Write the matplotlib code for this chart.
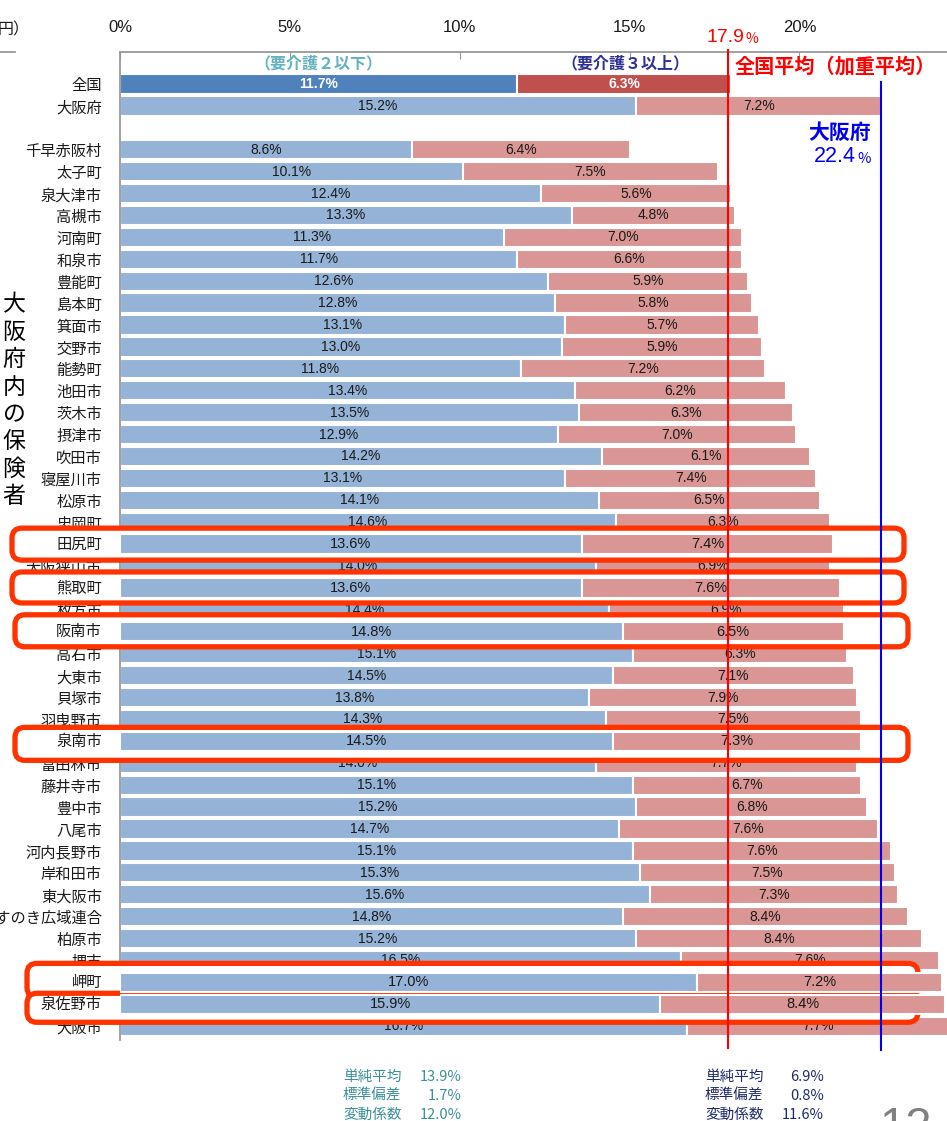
import matplotlib.pyplot as plt
from matplotlib import font_manager
from matplotlib.patches import FancyBboxPatch
from matplotlib.lines import Line2D
from matplotlib.transforms import IdentityTransform

# data
names = ['全国', '大阪府',
         '千早赤阪村', '太子町', '泉大津市', '高槻市', '河南町', '和泉市', '豊能町',
         '島本町', '箕面市', '交野市', '能勢町', '池田市', '茨木市', '摂津市',
         '吹田市', '寝屋川市', '松原市', '忠岡町', '田尻町', '大阪狭山市', '熊取町',
         '枚方市', '阪南市', '高石市', '大東市', '貝塚市', '羽曳野市', '泉南市',
         '富田林市', '藤井寺市', '豊中市', '八尾市', '河内長野市', '岸和田市',
         '東大阪市', 'くすのき広域連合', '柏原市', '堺市', '岬町', '泉佐野市', '大阪市']
care_low = [11.7, 15.2,
            8.6, 10.1, 12.4, 13.3, 11.3, 11.7, 12.6,
            12.8, 13.1, 13.0, 11.8, 13.4, 13.5, 12.9,
            14.2, 13.1, 14.1, 14.6, 13.6, 14.0, 13.6,
            14.4, 14.8, 15.1, 14.5, 13.8, 14.3, 14.5,
            14.0, 15.1, 15.2, 14.7, 15.1, 15.3,
            15.6, 14.8, 15.2, 16.5, 17.0, 15.9, 16.7]
care_high = [6.3, 7.2,
             6.4, 7.5, 5.6, 4.8, 7.0, 6.6, 5.9,
             5.8, 5.7, 5.9, 7.2, 6.2, 6.3, 7.0,
             6.1, 7.4, 6.5, 6.3, 7.4, 6.9, 7.6,
             6.9, 6.5, 6.3, 7.1, 7.9, 7.5, 7.3,
             7.7, 6.7, 6.8, 7.6, 7.6, 7.5,
             7.3, 8.4, 8.4, 7.6, 7.2, 8.4, 7.7]
rows = [0, 1] + list(range(3, 44))
highlight = ['田尻町', '熊取町', '阪南市', '泉南市', '岬町', '泉佐野市']
national_avg = 17.9
osaka_avg = 22.4
xticks = [0, 5, 10, 15, 20]
stat_names = ['単純平均', '標準偏差', '変動係数']
stats_low = ['13.9%', '1.7%', '12.0%']
stats_high = ['6.9%', '0.8%', '11.6%']

have = {f.name for f in font_manager.fontManager.ttflist}
num = 'Liberation Sans' if 'Liberation Sans' in have else 'DejaVu Sans'
jp = 'Noto Sans CJK JP'
plt.rcParams['font.family'] = [jp, 'DejaVu Sans']

W, H = 947, 1121
fig = plt.figure(figsize=(W / 100, H / 100), dpi=100)
ax = fig.add_axes([120 / W, 1 - 1040 / H, 1 - 120 / W, (1040 - 52) / H])


def fy(py):
    return 1 - py / H


def draw_row(y, lo, hi, c_lo, c_hi, z, tc='#1a1a1a', bold=False, size=10):
    ax.barh(y, lo, height=0.88, color=c_lo, edgecolor='white', linewidth=1.5, zorder=z)
    ax.barh(y, hi, left=lo, height=0.88, color=c_hi, edgecolor='white', linewidth=1.5, zorder=z)
    w = 'bold' if bold else 'normal'
    ax.text(lo / 2, y, f'{lo:.1f}%', ha='center', va='center', color=tc, fontsize=size,
            family=num, weight=w, zorder=z + 0.5)
    ax.text(lo + hi / 2, y, f'{hi:.1f}%', ha='center', va='center', color=tc, fontsize=size,
            family=num, weight=w, zorder=z + 0.5, clip_on=True)


for i, (n, lo, hi) in enumerate(zip(names, care_low, care_high)):
    if i == 0:
        draw_row(rows[i], lo, hi, '#4f81bd', '#c0504d', 2, tc='white', bold=True)
    else:
        draw_row(rows[i], lo, hi, '#95b3d7', '#d99694', 2)

ax.set_xlim(0, (947 - 120) / 33.97)
ax.set_ylim(43.63, -1.46)
ax.xaxis.tick_top()
ax.set_xticks(xticks, [f'{t}%' for t in xticks])
ax.tick_params(axis='x', direction='in', length=5, color='#999999', pad=12,
               labelsize=12, labelfontfamily=num, labelcolor='#1a1a1a')
ax.set_yticks(rows, names)
ax.tick_params(axis='y', length=0, pad=13, labelsize=11, labelcolor='#1a1a1a')
for s in ['right', 'bottom']:
    ax.spines[s].set_visible(False)
for s in ['top', 'left']:
    ax.spines[s].set_color('#999999')
    ax.spines[s].set_linewidth(1.3)

# highlighted rows: white box with red rounded frame, row redrawn on top
# (left px, right px, px above row centre, px below row centre)
box_px = {'田尻町': (12, 904, 16, 16), '熊取町': (12, 904, 16, 15),
          '阪南市': (15, 908, 17, 15), '泉南市': (15, 908, 14, 19),
          '岬町': (27, 918, 19, 15), '泉佐野市': (27, 918, 11, 18)}
for n in highlight:
    i = names.index(n)
    _, yc = ax.transData.transform((0, rows[i]))
    x0, x1, up, down = box_px[n]
    box = FancyBboxPatch((x0, yc - down), x1 - x0, up + down,
                         boxstyle='round,pad=0,rounding_size=10',
                         transform=IdentityTransform(), fc='white', ec='#ff3300',
                         lw=3.8, zorder=4, clip_on=False)
    ax.add_artist(box)
for n in highlight:
    i = names.index(n)
    draw_row(rows[i], care_low[i], care_high[i], '#95b3d7', '#d99694', 5, size=10.5)
    ax.annotate(n, (0, rows[i]), xycoords=('axes fraction', 'data'),
                xytext=(-13, 0), textcoords='offset points', ha='right', va='center',
                fontsize=11, color='#1a1a1a', zorder=6, annotation_clip=False)

# average lines
ax.axvline(national_avg, ymin=-8 / 988, ymax=1 + 2 / 988, color='red', lw=1.5,
           zorder=20, clip_on=False)
ax.axvline(osaka_avg, ymin=-10 / 988, ymax=(1040 - 82) / 988, color='#0000ee', lw=1.5,
           zorder=20, clip_on=False)

# annotations
fig.text(744 / W, fy(37), '17.9', ha='right', va='center', fontsize=14,
         color='red', family=num)
fig.text(745 / W, fy(39), '%', ha='left', va='center', fontsize=10, color='red')
fig.text(735 / W, fy(66), '全国平均（加重平均）', ha='left', va='center', fontsize=14.5,
         color='red', weight='bold')
fig.text(840 / W, fy(132), '大阪府', ha='center', va='center', fontsize=15,
         color='#0000ee', weight='bold')
fig.text(856 / W, fy(157), '22.4', ha='right', va='center', fontsize=15.5,
         color='#0000ee', family=num)
fig.text(857 / W, fy(159), '%', ha='left', va='center', fontsize=10.5, color='#0000ee')
fig.text(318 / W, fy(63), '（要介護２以下）', ha='center', va='center', fontsize=11.5,
         color='#62b3bd', weight='bold')
fig.text(625 / W, fy(63), '（要介護３以上）', ha='center', va='center', fontsize=11.5,
         color='#2e3192', weight='bold')

# vertical label on the left
for k, ch in enumerate('大阪府内の保険者'):
    fig.text(14 / W, fy(305 + 27.4 * k), ch, ha='center', va='center', fontsize=16.5,
             color='black')

# leftovers from the neighbouring slide
fig.text(-2 / W, fy(30), '円）', ha='left', va='center', fontsize=11.5, color='#1a1a1a')
fig.add_artist(Line2D([0, 15 / W], [fy(52), fy(52)], color='#999999', lw=1.3))

# summary statistics
for k in range(3):
    yy = fy(1077 + 19 * k)
    fig.text(343 / W, yy, stat_names[k], ha='left', va='center', fontsize=10.5, color='#3c9096')
    fig.text(462 / W, yy, stats_low[k], ha='right', va='center', fontsize=10.5, color='#3c9096')
    fig.text(705 / W, yy, stat_names[k], ha='left', va='center', fontsize=10.5, color='#1f2a6b')
    fig.text(824 / W, yy, stats_high[k], ha='right', va='center', fontsize=10.5, color='#1f2a6b')

fig.text(906 / W, fy(1140), '12', ha='center', va='baseline', fontsize=34,
         color='#808080', family=num)

fig.savefig('out.png', dpi=100)
